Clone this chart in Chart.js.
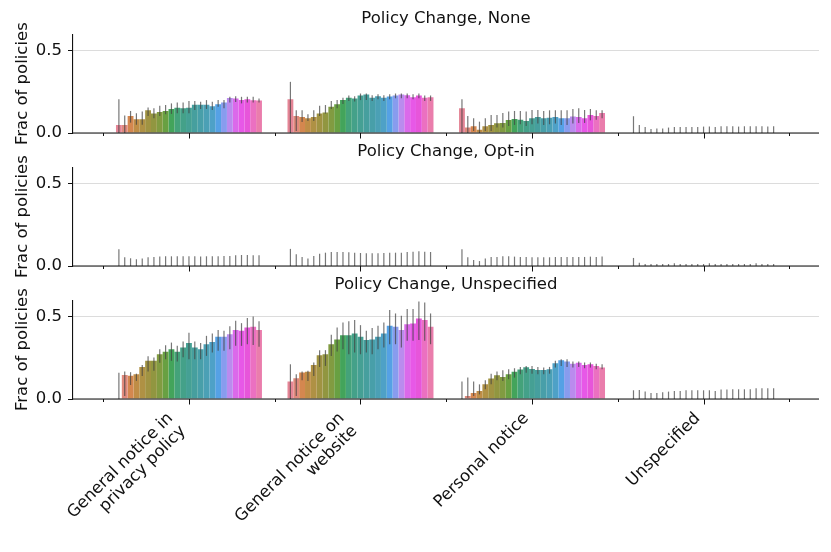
<!DOCTYPE html>
<html>
<head>
<meta charset="utf-8">
<script src="https://cdn.jsdelivr.net/npm/chart.js@4.4.1/dist/chart.umd.min.js"></script>
<style>
  html, body { margin: 0; background: #fff; }
  #fig { position: relative; width: 831px; height: 552px; }
  #fig canvas { position: absolute; left: 0; }
</style>
</head>
<body>
<div id="fig">
  <canvas id="panel-none" width="831" height="165" style="top:0"></canvas>
  <canvas id="panel-optin" width="831" height="165" style="top:133px"></canvas>
  <canvas id="panel-unspec" width="831" height="286" style="top:266px"></canvas>
</div>
<script>
// Notice type x policy change, 25 hue groups per category (seaborn husl palette)

const categories = [
  ['General notice in', 'privacy policy'],
  ['General notice on', 'website'],
  ['Personal notice'],
  ['Unspecified'],
];
const yTicks = [0, 0.5];
const majorTicks = [0, 1, 2, 3];
const minorTicks = [-0.5, 0.5, 1.5, 2.5, 3.5];

// ─── Policy Change, None ─────────────────────────────────────────────────────
const noneVals = [
  [0.049,0.049,0.104,0.083,0.083,0.138,0.118,0.128,0.134,0.146,0.154,0.150,0.154,0.171,0.171,0.171,0.163,0.175,0.185,0.213,0.209,0.200,0.205,0.199,0.197],
  [0.205,0.104,0.098,0.089,0.098,0.118,0.124,0.159,0.175,0.200,0.215,0.209,0.228,0.234,0.215,0.224,0.215,0.222,0.228,0.234,0.230,0.218,0.228,0.215,0.218],
  [0.150,0.033,0.041,0.020,0.041,0.049,0.059,0.061,0.079,0.085,0.081,0.073,0.089,0.098,0.089,0.093,0.098,0.089,0.089,0.100,0.098,0.089,0.110,0.104,0.122],
  [0,0,0,0,0,0,0,0,0,0,0,0,0,0,0,0,0,0,0,0,0,0,0,0,0],
];
const noneLo = [
  [0,0,0.063,0.050,0.050,0.104,0.090,0.104,0.114,0.116,0.120,0.120,0.120,0.140,0.146,0.146,0.140,0.160,0.150,0.185,0.189,0.180,0.185,0.185,0.185],
  [0,0.012,0.067,0.073,0.073,0.104,0.118,0.146,0.150,0.177,0.195,0.191,0.200,0.200,0.195,0.205,0.195,0.205,0.211,0.211,0.211,0.205,0.211,0.195,0.195],
  [0,0,0.012,0,0.012,0.012,0.033,0.033,0.043,0.049,0.053,0.043,0.053,0.057,0.049,0.053,0.057,0.049,0.049,0.057,0.061,0.061,0.077,0.081,0.089],
  [0,0,0,0,0,0,0,0,0,0,0,0,0,0,0,0,0,0,0,0,0,0,0,0,0],
];
const noneHi = [
  [0.205,0.107,0.134,0.120,0.130,0.155,0.150,0.165,0.170,0.180,0.185,0.185,0.195,0.195,0.190,0.200,0.190,0.200,0.200,0.220,0.224,0.220,0.220,0.220,0.210],
  [0.311,0.138,0.138,0.114,0.138,0.165,0.170,0.195,0.200,0.215,0.228,0.224,0.240,0.240,0.230,0.236,0.230,0.236,0.240,0.240,0.240,0.236,0.240,0.228,0.228],
  [0.205,0.104,0.089,0.069,0.089,0.110,0.110,0.122,0.130,0.134,0.134,0.130,0.140,0.140,0.134,0.138,0.138,0.138,0.138,0.146,0.150,0.140,0.146,0.138,0.138],
  [0.102,0.049,0.037,0.024,0.028,0.028,0.033,0.037,0.037,0.037,0.037,0.037,0.039,0.039,0.037,0.041,0.041,0.041,0.039,0.041,0.041,0.041,0.041,0.040,0.041],
];

// ─── Policy Change, Opt-in ───────────────────────────────────────────────────
const optinVals = [
  [0,0,0,0,0,0,0,0,0,0,0,0,0,0,0,0,0,0,0,0,0,0,0,0,0],
  [0,0,0,0,0,0,0,0,0,0,0,0,0,0,0,0,0,0,0,0,0,0,0,0,0],
  [0,0,0,0,0,0,0,0,0,0,0,0,0,0,0,0,0,0,0,0,0,0,0,0,0],
  [0,0,0,0,0,0,0,0,0,0,0,0,0,0,0,0,0,0,0,0,0,0,0,0,0],
];
const optinLo = optinVals;
const optinHi = [
  [0.102,0.053,0.047,0.041,0.045,0.053,0.055,0.057,0.059,0.059,0.059,0.059,0.059,0.059,0.057,0.059,0.059,0.059,0.061,0.061,0.065,0.067,0.067,0.065,0.065],
  [0.104,0.071,0.055,0.045,0.061,0.075,0.081,0.085,0.085,0.085,0.083,0.081,0.079,0.077,0.077,0.077,0.079,0.081,0.081,0.081,0.085,0.087,0.089,0.087,0.085],
  [0.102,0.053,0.037,0.030,0.045,0.055,0.055,0.059,0.059,0.057,0.055,0.055,0.053,0.053,0.053,0.053,0.055,0.055,0.055,0.055,0.055,0.055,0.057,0.055,0.057],
  [0.049,0.020,0.012,0.012,0.012,0.012,0.012,0.016,0.012,0.012,0.012,0.012,0.012,0.016,0.012,0.012,0.012,0.012,0.012,0.012,0.012,0.016,0.012,0.012,0.012],
];

// ─── Policy Change, Unspecified ──────────────────────────────────────────────
const unspecVals = [
  [0,0.146,0.142,0.150,0.195,0.232,0.232,0.272,0.287,0.303,0.287,0.313,0.341,0.313,0.303,0.333,0.347,0.378,0.378,0.394,0.419,0.415,0.435,0.439,0.419],
  [0.106,0.126,0.161,0.165,0.207,0.266,0.272,0.333,0.362,0.388,0.388,0.398,0.378,0.358,0.362,0.378,0.398,0.445,0.439,0.419,0.455,0.459,0.490,0.480,0.439],
  [0,0.018,0.037,0.049,0.089,0.124,0.144,0.134,0.150,0.165,0.179,0.193,0.183,0.177,0.177,0.181,0.217,0.236,0.228,0.215,0.220,0.207,0.211,0.201,0.191],
  [0,0,0,0,0,0,0,0,0,0,0,0,0,0,0,0,0,0,0,0,0,0,0,0,0],
];
const unspecLo = [
  [0,0.018,0.085,0.110,0.140,0.167,0.171,0.221,0.242,0.232,0.228,0.254,0.242,0.242,0.242,0.262,0.282,0.293,0.293,0.303,0.323,0.323,0.333,0.329,0.317],
  [0,0.018,0.114,0.110,0.140,0.195,0.201,0.262,0.289,0.303,0.272,0.283,0.272,0.283,0.272,0.303,0.313,0.333,0.333,0.313,0.354,0.354,0.358,0.354,0.333],
  [0,0.008,0.018,0.028,0.059,0.089,0.114,0.110,0.120,0.130,0.150,0.160,0.154,0.150,0.150,0.154,0.191,0.201,0.195,0.191,0.195,0.187,0.191,0.181,0.181],
  [0,0,0,0,0,0,0,0,0,0,0,0,0,0,0,0,0,0,0,0,0,0,0,0,0],
];
const unspecHi = [
  [0.160,0.167,0.163,0.154,0.207,0.260,0.252,0.303,0.327,0.343,0.323,0.350,0.402,0.350,0.340,0.384,0.398,0.419,0.415,0.443,0.476,0.461,0.492,0.502,0.472],
  [0.211,0.150,0.167,0.171,0.222,0.297,0.297,0.390,0.435,0.465,0.472,0.480,0.449,0.415,0.431,0.445,0.465,0.541,0.520,0.506,0.547,0.547,0.593,0.587,0.520],
  [0.106,0.130,0.106,0.089,0.114,0.154,0.167,0.175,0.181,0.187,0.195,0.201,0.201,0.195,0.191,0.195,0.232,0.242,0.242,0.228,0.228,0.222,0.222,0.215,0.211],
  [0.053,0.055,0.045,0.037,0.037,0.041,0.045,0.049,0.049,0.053,0.053,0.053,0.053,0.053,0.049,0.057,0.057,0.059,0.059,0.059,0.059,0.065,0.065,0.065,0.065],
];

// ─── Style ───────────────────────────────────────────────────────────────────
const INK = '#111';
const FONT = { family: '"DejaVu Sans", sans-serif', size: 16.5 };
const X_MIN = -0.676, X_MAX = 3.673;
const PLOT_BOTTOM = 133;   // chart-area bottom inside every panel canvas

Chart.defaults.font.family = FONT.family;
Chart.defaults.font.size = FONT.size;
Chart.defaults.color = INK;

// seaborn husl_palette (old husl.py maths), then barplot's 0.75 desaturation
const _M = [[3.2406, -1.5372, -0.4986], [-0.9689, 1.8758, 0.0415], [0.0557, -0.2040, 1.0570]];

function _maxChroma(L, H) {
  const hr = H * Math.PI / 180, sinH = Math.sin(hr), cosH = Math.cos(hr);
  const sub1 = Math.pow(L + 16, 3) / 1560896;
  const sub2 = sub1 > 0.008856 ? sub1 : L / 903.3;
  let res = Infinity;
  _M.forEach(([m1, m2, m3]) => {
    const top = (0.99915 * m1 + 1.05122 * m2 + 1.14460 * m3) * sub2;
    const bottom = ((0.86330 * m3 - 0.17266 * m2) * sinH + (0.12949 * m3 - 0.38848 * m1) * cosH) * sub2;
    [0, 1].forEach(t => {
      const C = L * (top - 1.05122 * t) / bottom;
      if (C > 0 && C < res) res = C;
    });
  });
  return res;
}

function _huslToRgb(H, S, L) {
  const C = _maxChroma(L, H) / 100 * S;
  const hr = H * Math.PI / 180;
  const U = Math.cos(hr) * C, V = Math.sin(hr) * C;
  const t = (L + 16) / 116;
  const Y = t * t * t > 0.008856 ? t * t * t : (116 * t - 16) / 903.3;
  const vu = U / (13 * L) + 0.19784, vv = V / (13 * L) + 0.46834;
  const X = -(9 * Y * vu) / ((vu - 4) * vv - vu * vv);
  const Z = (9 * Y - 15 * vv * Y - vv * X) / (3 * vv);
  const lin = c => c <= 0.0031308 ? 12.92 * c : 1.055 * Math.pow(c, 1 / 2.4) - 0.055;
  return _M.map(r => Math.min(1, Math.max(0, lin(r[0] * X + r[1] * Y + r[2] * Z))));
}

function _palette(n) {
  return Array.from({ length: n }, (_, i) => {
    const h = ((i / n + 0.01) % 1) * 359;
    const rgb = _huslToRgb(h, 0.9 * 99, 0.65 * 100);
    const mid = (Math.max(...rgb) + Math.min(...rgb)) / 2;
    const out = rgb.map(c => Math.round((mid + (c - mid) * 0.75) * 255));
    return `rgb(${out.join(',')})`;
  });
}

const palette = _palette(noneVals[0].length);

// ─── Plugins ─────────────────────────────────────────────────────────────────
const errBarPlugin = {
  id: 'errbars',
  afterDatasetsDraw(chart) {
    const { ctx, scales: { y } } = chart;
    ctx.save();
    ctx.strokeStyle = 'rgba(66,66,66,0.72)';
    ctx.lineWidth = 1.2;
    chart.data.datasets.forEach((ds, h) => {
      chart.getDatasetMeta(h).data.forEach((bar, c) => {
        ctx.beginPath();
        ctx.moveTo(bar.x, y.getPixelForValue(ds.errLo[c]));
        ctx.lineTo(bar.x, y.getPixelForValue(ds.errHi[c]));
        ctx.stroke();
      });
    });
    ctx.restore();
  }
};

const xMarksPlugin = {
  id: 'xmarks',
  afterDraw(chart, args, opts) {
    const { ctx, chartArea: { left, right, bottom }, scales: { x } } = chart;
    ctx.save();
    ctx.strokeStyle = INK;
    ctx.lineWidth = 1.1;
    ctx.beginPath(); ctx.moveTo(left, bottom); ctx.lineTo(right, bottom); ctx.stroke();
    ctx.lineWidth = 1;
    majorTicks.forEach(v => {
      const px = Math.round(x.getPixelForValue(v)) + 0.5;
      ctx.beginPath(); ctx.moveTo(px, bottom); ctx.lineTo(px, bottom + 5.5); ctx.stroke();
    });
    minorTicks.forEach(v => {
      const px = Math.round(x.getPixelForValue(v)) + 0.5;
      ctx.beginPath(); ctx.moveTo(px, bottom); ctx.lineTo(px, bottom + 3); ctx.stroke();
    });

    if (opts.showLabels) {
      // matplotlib style: rotated 45°, right aligned, box top under the ticks
      const asc = FONT.size * 0.76, desc = FONT.size * 0.24, gap = 18;
      ctx.font = `${FONT.size}px ${FONT.family}`;
      ctx.fillStyle = INK;
      ctx.textAlign = 'right';
      ctx.textBaseline = 'alphabetic';
      categories.forEach((lines, i) => {
        const px = x.getPixelForValue(i);
        const boxH = asc + desc + gap * (lines.length - 1);
        ctx.save();
        ctx.translate(px - boxH * Math.SQRT1_2, bottom + 11);
        ctx.rotate(-Math.PI / 4);
        lines.forEach((t, k) => ctx.fillText(t, 0, asc + gap * k));
        ctx.restore();
      });
    }
    ctx.restore();
  }
};

// ─── Panels ──────────────────────────────────────────────────────────────────
function buildPanel(id, title, vals, lo, hi, showLabels) {
  const canvas = document.getElementById(id);
  const datasets = palette.map((color, h) => ({
    label: 'group ' + (h + 1),
    data: categories.map((_, c) => ({ x: c, y: vals[c][h] })),
    errLo: categories.map((_, c) => lo[c][h]),
    errHi: categories.map((_, c) => hi[c][h]),
    backgroundColor: color,
    borderWidth: 0,
    categoryPercentage: 0.851,
    barPercentage: 1.0,
  }));

  return new Chart(canvas, {
    type: 'bar',
    data: { datasets },
    options: {
      responsive: false,
      animation: false,
      layout: { padding: { top: 0, right: 12, bottom: canvas.height - PLOT_BOTTOM, left: 0 } },
      plugins: {
        legend: { display: false },
        tooltip: { enabled: false },
        title: {
          display: true,
          text: title,
          fullSize: false,
          color: INK,
          font: { size: FONT.size, weight: 'normal' },
          padding: { top: 8.5, bottom: 6 },
        },
        xmarks: { showLabels },
      },
      scales: {
        x: {
          type: 'linear',
          min: X_MIN,
          max: X_MAX,
          offset: false,
          display: false,
          afterBuildTicks: s => { s.ticks = majorTicks.map(v => ({ value: v })); },
        },
        y: {
          min: 0,
          max: 0.6,
          afterBuildTicks: s => { s.ticks = yTicks.map(v => ({ value: v })); },
          afterFit: s => { s.width = 73; },
          ticks: { color: INK, padding: 6, callback: v => Number(v).toFixed(1) },
          grid: { color: '#dcdcdc', lineWidth: 1, tickColor: INK, tickLength: 5, tickWidth: 1 },
          border: { display: true, color: INK, width: 1.1 },
          title: {
            display: true,
            text: 'Frac of policies',
            color: INK,
            padding: { top: 13, bottom: 0 },
          },
        },
      },
    },
    plugins: [errBarPlugin, xMarksPlugin],
  });
}

buildPanel('panel-none',   'Policy Change, None',        noneVals,   noneLo,   noneHi,   false);
buildPanel('panel-optin',  'Policy Change, Opt-in',      optinVals,  optinLo,  optinHi,  false);
buildPanel('panel-unspec', 'Policy Change, Unspecified', unspecVals, unspecLo, unspecHi, true);
</script>
</body>
</html>
